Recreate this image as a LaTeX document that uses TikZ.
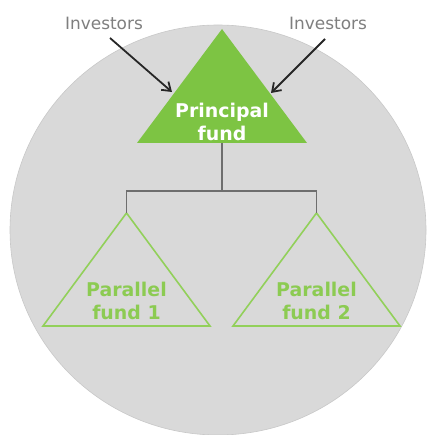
\documentclass[tikz,border=0pt]{standalone}
\usepackage{fontspec}
\setmainfont{DejaVu Sans}
\usetikzlibrary{arrows.meta}
\definecolor{bggray}{HTML}{D9D9D9}
\definecolor{edgegray}{HTML}{C8C8C8}
\definecolor{mainGreen}{HTML}{7DC443}
\definecolor{lineGreen}{HTML}{92D05A}
\definecolor{textGreen}{HTML}{8CCB52}
\definecolor{labGray}{HTML}{7F7F7F}
\definecolor{connGray}{HTML}{6E6E6E}
\tikzset{
  inv/.style={font=\fontsize{17}{19}\selectfont, text=labGray, inner sep=0pt},
  ftext/.style={font=\fontsize{19}{23}\selectfont\bfseries, align=center, inner sep=0pt},
  conn/.style={draw=connGray, line width=1.5pt},
  arr/.style={draw=black!85, line width=1.8pt, -{Straight Barb[length=8pt,width=11pt,line width=1.8pt]}},
  outlineTri/.style={draw=lineGreen, line width=1.6pt}
}
\begin{document}
\begin{tikzpicture}[x=1bp,y=-1bp]
\useasboundingbox[fill=white] (0,0) rectangle (430,435);
% background circle
\fill[bggray] (218,230) ellipse[x radius=208, y radius=205];
\draw[edgegray, line width=0.6pt] (218,230) ellipse[x radius=208, y radius=205];
% principal fund triangle
\coordinate (pA) at (222,29);
\coordinate (pL) at (137,143);
\coordinate (pR) at (307,143);
\fill[mainGreen] (pA) -- (pL) -- (pR) -- cycle;
\node[ftext, text=white] (principal) at (222,122) {Principal\\fund};
% parallel fund triangles
\coordinate (aA) at (126.5,213);
\coordinate (aL) at (43,326);
\coordinate (aR) at (210,326);
\draw[outlineTri] (aA) -- (aL) -- (aR) -- cycle;
\node[ftext, text=textGreen] (par1) at (126.5,301) {Parallel\\fund 1};
\coordinate (bA) at (316.5,213);
\coordinate (bL) at (233,326);
\coordinate (bR) at (400,326);
\draw[outlineTri] (bA) -- (bL) -- (bR) -- cycle;
\node[ftext, text=textGreen] (par2) at (316.5,301) {Parallel\\fund 2};
% connectors
\coordinate (pBase) at (222,143);
\coordinate (junc) at (222,191);
\draw[conn] (pBase) -- (junc);
\draw[conn] (aA) -- (aA |- junc) -- (bA |- junc) -- (bA);
% investors
\node[inv] (inv1) at (104,23) {Investors};
\node[inv] (inv2) at (328,23) {Investors};
\coordinate (e1) at (172,92);
\coordinate (e2) at (271,93);
\coordinate (s1) at (110,38);
\coordinate (s2) at (325,39);
\draw[arr] (s1) -- (e1);
\draw[arr] (s2) -- (e2);
\end{tikzpicture}
\end{document}
